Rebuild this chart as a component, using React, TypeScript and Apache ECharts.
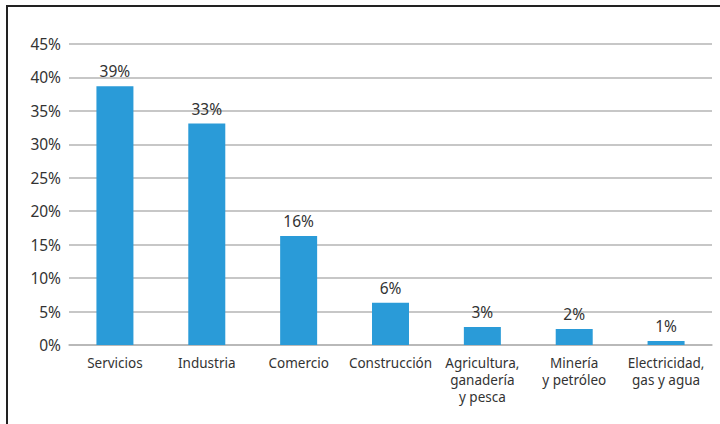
import React, { useEffect, useRef } from "react";
import * as echarts from "echarts";

const categories = [
  "Servicios",
  "Industria",
  "Comercio",
  "Construcción",
  "Agricultura,\nganadería\ny pesca",
  "Minería\ny petróleo",
  "Electricidad,\ngas y agua",
];
const values = [38.7, 33.1, 16.3, 6.3, 2.7, 2.4, 0.6];
const valueLabels = ["39%", "33%", "16%", "6%", "3%", "2%", "1%"];

export default function App() {
  const ref = useRef<HTMLDivElement>(null);
  useEffect(() => {
    if (!ref.current) return;
    const chart = echarts.init(ref.current, undefined, { renderer: "svg" });
    const font = "'Noto Sans', sans-serif";
    chart.setOption({
      animation: false,
      textStyle: { fontFamily: font },
      grid: { left: 69, right: 8, top: 44, bottom: 79 },
      xAxis: {
        type: "category",
        data: categories,
        axisLine: { show: true, lineStyle: { color: "#b5b5b5", width: 1.5 } },
        axisTick: { show: false },
        axisLabel: {
          color: "#333",
          fontSize: 13.5,
          lineHeight: 17,
          margin: 9,
          interval: 0,
          fontFamily: font,
        },
      },
      yAxis: {
        type: "value",
        min: 0,
        max: 45,
        interval: 5,
        axisLine: { show: false },
        axisTick: { show: false },
        splitLine: { lineStyle: { color: "#b5b5b5", width: 1.5 } },
        axisLabel: {
          color: "#333",
          fontSize: 15.5,
          margin: 8,
          formatter: (v: number) => `${v}%`,
          fontFamily: font,
        },
      },
      series: [
        {
          type: "bar",
          data: values,
          barWidth: 37,
          itemStyle: { color: "#2a9bd8" },
          label: {
            show: true,
            position: "top",
            color: "#333",
            fontSize: 15.5,
            distance: 7,
            fontFamily: font,
            formatter: (p: any) => valueLabels[p.dataIndex],
          },
        },
      ],
      graphic: [
        {
          type: "polyline",
          shape: { points: [[7, 440], [7, 6], [740, 6]] },
          style: { stroke: "#222", lineWidth: 2, fill: "none" },
          silent: true,
        },
      ],
    });
    return () => chart.dispose();
  }, []);
  return (
    <div
      ref={ref}
      style={{ position: "fixed", left: 0, top: 0, width: 720, height: 424, background: "#fff" }}
    />
  );
}
